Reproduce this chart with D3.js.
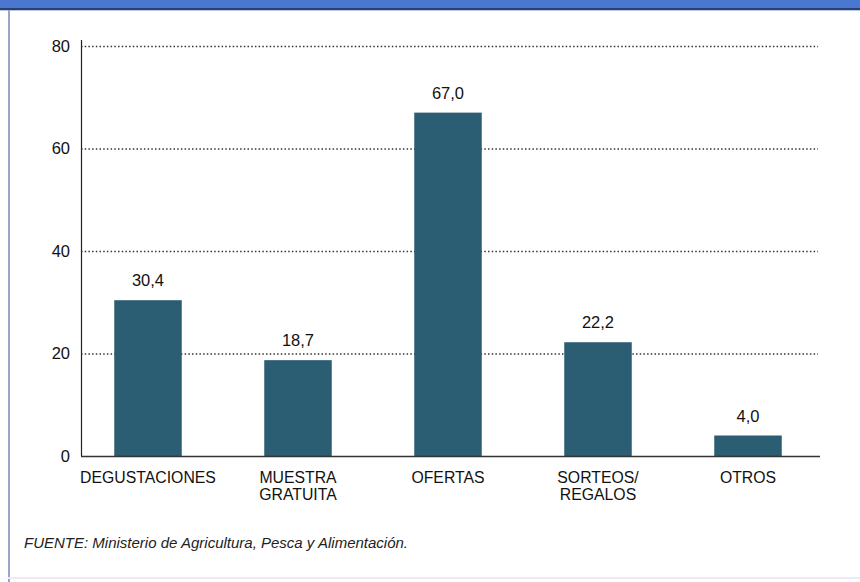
<!DOCTYPE html>
<html>
<head>
<meta charset="utf-8">
<script src="https://cdn.jsdelivr.net/npm/d3@7"></script>
<style>
  html, body { margin: 0; padding: 0; background: #fff; }
  svg { display: block; }
  text { font-family: "Liberation Sans", Arial, Helvetica, sans-serif; }
</style>
</head>
<body>
<svg id="chart" width="860" height="582"></svg>
<script>
// Promotional actions (%)
const categories = [["DEGUSTACIONES"], ["MUESTRA", "GRATUITA"], ["OFERTAS"], ["SORTEOS/", "REGALOS"], ["OTROS"]];
const values = [30.4, 18.7, 67.0, 22.2, 4.0];
const valueLabels = ["30,4", "18,7", "67,0", "22,2", "4,0"];
const yTicks = [0, 20, 40, 60, 80];
const source = "FUENTE: Ministerio de Agricultura, Pesca y Alimentación.";

const svg = d3.select("#chart");
const W = 860, H = 582;

// Frame: blue header strip and thin borders
svg.append("rect").attr("x", 0).attr("y", 0).attr("width", W).attr("height", 8).attr("fill", "#4a77cf");
svg.append("rect").attr("x", 0).attr("y", 8).attr("width", W).attr("height", 2).attr("fill", "#2d3f6e");
svg.append("rect").attr("x", 0).attr("y", 10).attr("width", W).attr("height", 1).attr("fill", "#b9c8ea");
svg.append("rect").attr("x", 8).attr("y", 10).attr("width", 2).attr("height", H - 10).attr("fill", "#97a6c6");
svg.append("rect").attr("x", 8).attr("y", 577).attr("width", W - 8).attr("height", 2).attr("fill", "#eeeaf4");

const x0 = 81, x1 = 820, yTop = 46, yBase = 456;

const x = d3.scaleBand()
  .domain(d3.range(categories.length))
  .range([73, 823])
  .paddingInner(0.55)
  .paddingOuter(0.275);

const y = d3.scaleLinear().domain([0, 80]).range([yBase, yTop]);

// Dotted gridlines
svg.append("g").selectAll("line")
  .data(yTicks.filter(t => t > 0))
  .join("line")
  .attr("x1", x0).attr("x2", 818)
  .attr("y1", d => y(d) + 0.5).attr("y2", d => y(d) + 0.5)
  .attr("stroke", "#333")
  .attr("stroke-width", 1.3)
  .attr("stroke-dasharray", "1.5,2.2");

// Y axis
const yAxis = d3.axisLeft(y).tickValues(yTicks).tickSize(0).tickPadding(11);
const gy = svg.append("g").attr("transform", `translate(${x0},0)`).call(yAxis);
gy.select(".domain").remove();
gy.selectAll("text").attr("font-size", 16.5).attr("fill", "#111")
  .attr("font-family", "'Liberation Sans', Arial, sans-serif");
svg.append("line").attr("x1", x0 + 0.5).attr("x2", x0 + 0.5).attr("y1", 40).attr("y2", yBase)
  .attr("stroke", "#222").attr("stroke-width", 1.2);

// Bars
svg.append("g").selectAll("rect")
  .data(values)
  .join("rect")
  .attr("x", (d, i) => x(i))
  .attr("width", x.bandwidth())
  .attr("y", d => y(d))
  .attr("height", d => yBase - y(d))
  .attr("fill", "#2b5e73");

// Baseline
svg.append("line").attr("x1", x0).attr("x2", x1).attr("y1", yBase + 0.5).attr("y2", yBase + 0.5)
  .attr("stroke", "#333").attr("stroke-width", 1.4);

// Value labels
svg.append("g").selectAll("text")
  .data(values)
  .join("text")
  .attr("x", (d, i) => x(i) + x.bandwidth() / 2)
  .attr("y", d => y(d) - 14)
  .attr("text-anchor", "middle")
  .attr("font-size", 16.5)
  .attr("fill", "#111")
  .text((d, i) => valueLabels[i]);

// Category labels
const cat = svg.append("g").selectAll("text")
  .data(categories)
  .join("text")
  .attr("x", (d, i) => x(i) + x.bandwidth() / 2)
  .attr("y", 483)
  .attr("text-anchor", "middle")
  .attr("font-size", 15.8)
  .attr("fill", "#111");
cat.selectAll("tspan")
  .data(d => d)
  .join("tspan")
  .attr("x", function () { return d3.select(this.parentNode).attr("x"); })
  .attr("dy", (d, i) => i === 0 ? 0 : 16.5)
  .text(d => d);

// Source note
svg.append("text")
  .attr("x", 24).attr("y", 548)
  .attr("font-size", 15)
  .attr("font-style", "italic")
  .attr("fill", "#222")
  .text(source);
</script>
</body>
</html>
